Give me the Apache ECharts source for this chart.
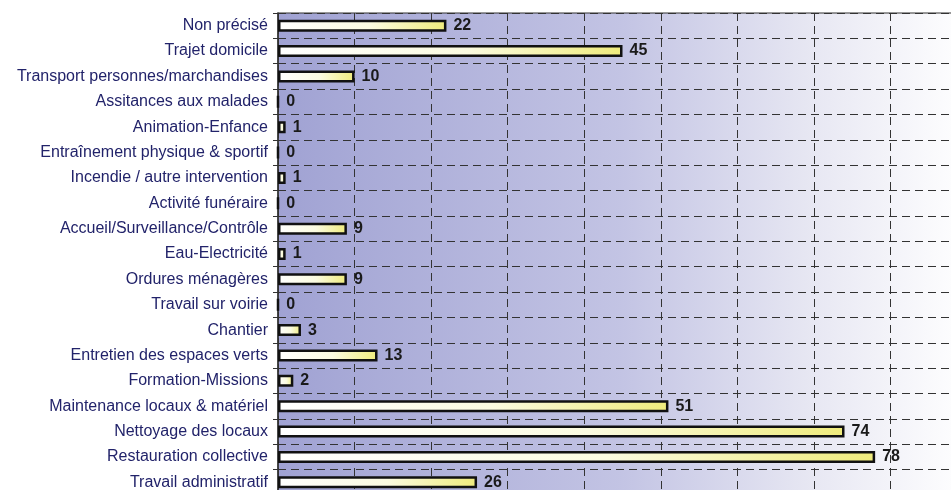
<!DOCTYPE html>
<html>
<head>
<meta charset="utf-8">
<script src="https://cdn.jsdelivr.net/npm/echarts@6/dist/echarts.min.js"></script>
<style>html,body{margin:0;padding:0;background:#fff;overflow:hidden;width:951px;height:490px;}#c{width:967px;height:495px;}</style>
</head>
<body>
<div id="c"></div>
<script>
const categories = [
  "Non précisé",
  "Trajet domicile",
  "Transport personnes/marchandises",
  "Assitances aux malades",
  "Animation-Enfance",
  "Entraînement physique & sportif",
  "Incendie / autre intervention",
  "Activité funéraire",
  "Accueil/Surveillance/Contrôle",
  "Eau-Electricité",
  "Ordures ménagères",
  "Travail sur voirie",
  "Chantier",
  "Entretien des espaces verts",
  "Formation-Missions",
  "Maintenance locaux & matériel",
  "Nettoyage des locaux",
  "Restauration collective",
  "Travail administratif"
];
const values = [22, 45, 10, 0, 1, 0, 1, 0, 9, 1, 9, 0, 3, 13, 2, 51, 74, 78, 26];

const chart = echarts.init(document.getElementById('c'));
const bg = new echarts.graphic.LinearGradient(0, 0, 1, 0, [
  {offset: 0, color: '#a0a2d3'},
  {offset: 0.5, color: '#c3c4e4'},
  {offset: 0.78, color: '#e8e8f3'},
  {offset: 1, color: '#ffffff'}
]);
const barFill = new echarts.graphic.LinearGradient(0, 0, 1, 0, [
  {offset: 0, color: '#ffffff'},
  {offset: 0.55, color: '#fbfbe0'},
  {offset: 1, color: '#efeb7c'}
]);
chart.setOption({
  animation: false,
  backgroundColor: '#ffffff',
  grid: {
    left: 278, top: 13, right: 0, bottom: 0,
    show: true, backgroundColor: bg, borderColor: '#333', borderWidth: 1.2
  },
  xAxis: {
    type: 'value', min: 0, max: 90, interval: 10,
    axisLine: {show: false}, axisTick: {show: false}, axisLabel: {show: false},
    splitLine: {show: true, lineStyle: {color: '#333', type: [8, 5], width: 1}}
  },
  yAxis: {
    type: 'category', data: categories, inverse: true,
    axisLine: {show: true, lineStyle: {color: '#333', width: 1.5}},
    axisTick: {show: true, length: 5, lineStyle: {color: '#333'}},
    axisLabel: {color: '#22236a', fontSize: 16, fontFamily: 'Liberation Sans, Arial, sans-serif', margin: 10},
    splitLine: {show: true, lineStyle: {color: '#333', type: [8, 5], width: 1}}
  },
  series: [{
    type: 'bar', data: values, barWidth: 12,
    itemStyle: {color: barFill, borderColor: '#111', borderWidth: 2.5},
    label: {show: true, position: 'right', distance: 7, color: '#1a1a1a', fontWeight: 'bold', fontSize: 16, fontFamily: 'Liberation Sans, Arial, sans-serif'}
  }]
});
</script>
</body>
</html>
